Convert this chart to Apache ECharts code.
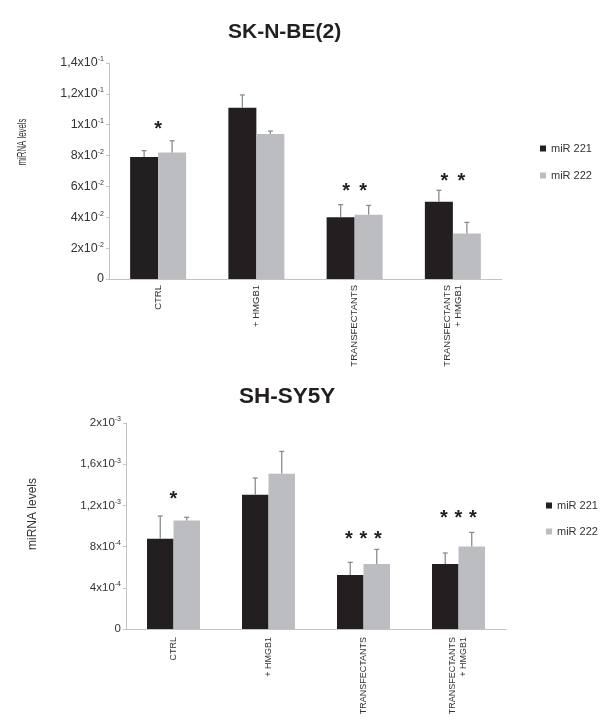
<!DOCTYPE html>
<html><head><meta charset="utf-8">
<script src="https://cdn.jsdelivr.net/npm/echarts@6/dist/echarts.min.js"></script>
<style>html,body{margin:0;padding:0;background:#fff}#c{width:603px;height:723px}</style>
</head><body><div id="c"></div>
<script>
// ---------- data ----------
const categories = ['CTRL', '+ HMGB1', 'TRANSFECTANTS', 'TRANSFECTANTS\n+ HMGB1'];
const seriesNames = ['miR 221', 'miR 222'];

// SK-N-BE(2)
const skMiR221 = [0.079, 0.111, 0.040, 0.050];
const skMiR221Err = [0.0042, 0.0083, 0.0082, 0.0075];
const skMiR222 = [0.082, 0.094, 0.0417, 0.0295];
const skMiR222Err = [0.0076, 0.0019, 0.0060, 0.0072];
const skStarCount = [1, 0, 2, 2];
const skStarLevel = [0.0992, 0, 0.059, 0.0655];
const skTickMant = ['0', '2x10', '4x10', '6x10', '8x10', '1x10', '1,2x10', '1,4x10'];
const skTickExp = ['', '-2', '-2', '-2', '-2', '-1', '-1', '-1'];

// SH-SY5Y
const shMiR221 = [0.000877, 0.001304, 0.000524, 0.000631];
const shMiR221Err = [0.00022, 0.000162, 0.000123, 0.000107];
const shMiR222 = [0.001054, 0.001508, 0.000631, 0.000802];
const shMiR222Err = [0.00003, 0.000216, 0.000142, 0.000136];
const shStarCount = [1, 0, 3, 3];
const shStarLevel = [0.001294, 0, 0.000909, 0.00111];
const shTickMant = ['0', '4x10', '8x10', '1,2x10', '1,6x10', '2x10'];
const shTickExp = ['', '-4', '-4', '-3', '-3', '-3'];

// ---------- styling ----------
const DARK = '#231f20', LIGHT = '#bcbdc0', ERR = '#8c8c8c', AXIS = '#c4c4c4', TXT = '#333';

function errSeries(name, vals, errs, axisIdx, offset) {
  return {
    type: 'custom', name: name, xAxisIndex: axisIdx, yAxisIndex: axisIdx, z: 5, silent: true,
    data: vals.map((v, i) => [i, v, v + errs[i]]),
    renderItem: function (params, api) {
      const p0 = api.coord([api.value(0), api.value(1)]);
      const p1 = api.coord([api.value(0), api.value(2)]);
      const x = p0[0] + offset;
      const st = { stroke: ERR, lineWidth: 1.3 };
      return { type: 'group', children: [
        { type: 'line', shape: { x1: x, y1: p0[1], x2: x, y2: p1[1] }, style: st },
        { type: 'line', shape: { x1: x - 2.5, y1: p1[1], x2: x + 2.5, y2: p1[1] }, style: st }
      ]};
    }
  };
}

function starSeries(counts, levels, axisIdx, spacing) {
  const data = [];
  counts.forEach((c, i) => { if (c > 0) data.push([i, levels[i], c]); });
  return {
    type: 'custom', name: 'stars' + axisIdx, xAxisIndex: axisIdx, yAxisIndex: axisIdx, z: 6, silent: true,
    data: data,
    renderItem: function (params, api) {
      const p = api.coord([api.value(0), api.value(1)]);
      const n = api.value(2);
      const children = [];
      for (let k = 0; k < n; k++) {
        children.push({
          type: 'text',
          style: {
            text: '*', x: p[0] + (k - (n - 1) / 2) * spacing, y: p[1] + 4,
            fill: DARK, font: 'bold 20px "Liberation Sans", Arial, sans-serif',
            textAlign: 'center', textVerticalAlign: 'middle'
          }
        });
      }
      return { type: 'group', children: children };
    }
  };
}

function yAxis(idx, max, interval, mant, exp, fs) {
  return {
    type: 'value', gridIndex: idx, min: 0, max: max, interval: interval,
    axisLine: { show: true, lineStyle: { color: AXIS } },
    axisTick: { show: true, length: 3, lineStyle: { color: AXIS } },
    splitLine: { show: false },
    axisLabel: {
      margin: 5,
      formatter: function (v) {
        const i = Math.round(v / interval);
        return exp[i] ? '{m|' + mant[i] + '}{e|' + exp[i] + '}' : '{m|' + mant[i] + '}';
      },
      rich: {
        m: { fontSize: fs, color: TXT, fontFamily: 'Liberation Sans', lineHeight: 14 },
        e: { fontSize: 7, color: TXT, fontFamily: 'Liberation Sans', lineHeight: 8, verticalAlign: 'top' }
      }
    }
  };
}

function xAxis(idx, fs, margin) {
  return {
    type: 'category', gridIndex: idx, data: categories,
    axisLine: { lineStyle: { color: AXIS } },
    axisTick: { length: 3, lineStyle: { color: AXIS } },
    axisLabel: { rotate: 90, interval: 0, margin: margin, color: TXT, fontSize: fs,
      fontFamily: 'Liberation Sans', lineHeight: 11 }
  };
}

const chart = echarts.init(document.getElementById('c'));
chart.setOption({
  animation: false,
  backgroundColor: '#fff',
  title: [
    { text: 'SK-N-BE(2)', left: 223, top: 16, textStyle: { fontSize: 21, fontWeight: 'bold', color: DARK, fontFamily: 'Liberation Sans', lineHeight: 22 } },
    { text: 'SH-SY5Y', left: 234, top: 380, textStyle: { fontSize: 22.5, fontWeight: 'bold', color: DARK, fontFamily: 'Liberation Sans', lineHeight: 24 } }
  ],
  legend: [
    { data: seriesNames, orient: 'vertical', left: 535, top: 138, itemWidth: 6, itemHeight: 6, itemGap: 16, icon: 'rect',
      textStyle: { fontSize: 11, color: TXT, fontFamily: 'Liberation Sans', lineHeight: 11 } },
    { data: seriesNames, orient: 'vertical', left: 541, top: 495, itemWidth: 6, itemHeight: 6, itemGap: 15, icon: 'rect',
      textStyle: { fontSize: 11, color: TXT, fontFamily: 'Liberation Sans', lineHeight: 11 } }
  ],
  grid: [
    { left: 109, right: 101, top: 63, bottom: 444 },
    { left: 126, right: 97, top: 423, bottom: 94 }
  ],
  xAxis: [xAxis(0, 9.5, 6), xAxis(1, 9, 8)],
  yAxis: [yAxis(0, 0.14, 0.02, skTickMant, skTickExp, 12.5), yAxis(1, 0.002, 0.0004, shTickMant, shTickExp, 11.5)],
  graphic: [
    { type: 'text', x: 23, y: 142, rotation: Math.PI / 2, scaleX: 0.65,
      style: { text: 'miRNA levels', fill: TXT, font: '12px "Liberation Sans", Arial, sans-serif', textAlign: 'center', textVerticalAlign: 'middle' } },
    { type: 'text', x: 33, y: 514, rotation: Math.PI / 2,
      style: { text: 'miRNA levels', fill: TXT, font: '12px "Liberation Sans", Arial, sans-serif', textAlign: 'center', textVerticalAlign: 'middle' } }
  ],
  series: [
    { type: 'bar', name: seriesNames[0], xAxisIndex: 0, yAxisIndex: 0, data: skMiR221, barWidth: 28, barGap: '0%', itemStyle: { color: DARK } },
    { type: 'bar', name: seriesNames[1], xAxisIndex: 0, yAxisIndex: 0, data: skMiR222, barWidth: 28, barGap: '0%', itemStyle: { color: LIGHT } },
    { type: 'bar', name: seriesNames[0], xAxisIndex: 1, yAxisIndex: 1, data: shMiR221, barWidth: 26.5, barGap: '0%', itemStyle: { color: DARK } },
    { type: 'bar', name: seriesNames[1], xAxisIndex: 1, yAxisIndex: 1, data: shMiR222, barWidth: 26.5, barGap: '0%', itemStyle: { color: LIGHT } },
    errSeries('err1', skMiR221, skMiR221Err, 0, -14),
    errSeries('err2', skMiR222, skMiR222Err, 0, 14),
    errSeries('err3', shMiR221, shMiR221Err, 1, -13.25),
    errSeries('err4', shMiR222, shMiR222Err, 1, 13.25),
    starSeries(skStarCount, skStarLevel, 0, 17),
    starSeries(shStarCount, shStarLevel, 1, 14.5)
  ]
});
</script></body></html>
